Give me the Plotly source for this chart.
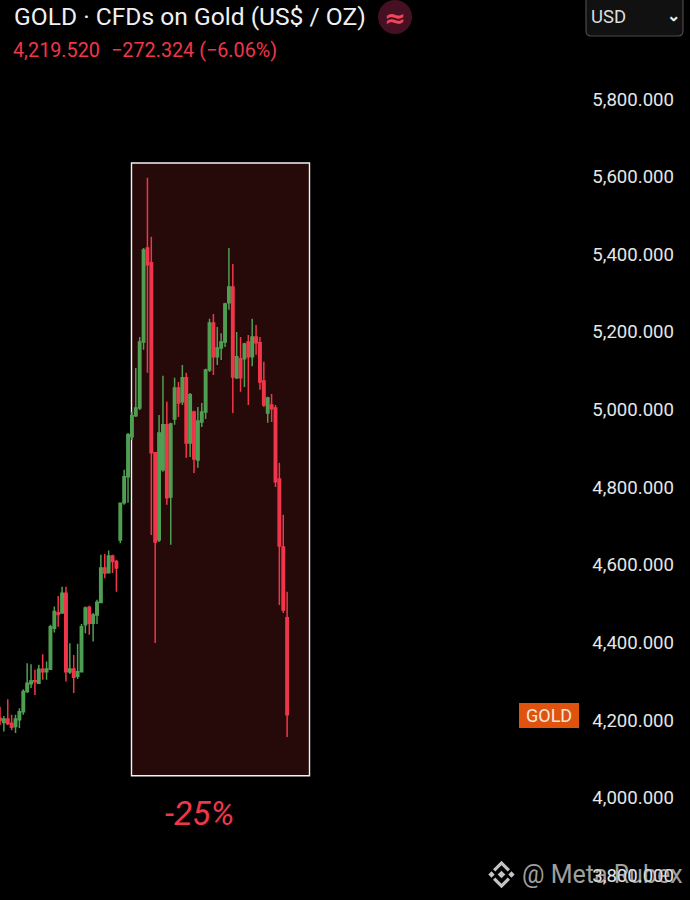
import plotly.graph_objects as go

# candles, oldest first
open_ = [4205,4194,4203,4192,4184,4201,4222,4274,4294,4302,4295,4331,4325,4331,4437,4477,4476,4527,4324,4332,4313,4325,4446,4491,4450,4471,4503,4592,4580,4623,
         4609,4664,4760,4827,4930,4984,5004,5174,5416,5378,4889,4664,4845,4961,4775,4976,5056,5020,5082,4914,4994,4870,4968,4994,5102,5223,5136,5159,5174,5275,
         5316,5082,5131,5131,5174,5136,5187,5172,5074,4991,5012,5004,4821,4646,4464]
high = [4235,4211,4254,4214,4214,4231,4280,4347,4344,4330,4343,4370,4351,4446,4493,4520,4544,4544,4398,4368,4397,4448,4493,4495,4476,4510,4626,4628,4637,4626,
        4613,4761,4845,4940,4994,5107,5187,5416,5597,5445,4891,4986,5087,5020,4966,5082,5071,5115,5095,5043,4997,5007,5017,5105,5234,5246,5213,5197,5275,5416,
        5375,5200,5187,5172,5192,5234,5218,5187,5123,5033,5040,5012,4863,4729,4531]
low = [4188,4171,4188,4174,4167,4180,4214,4270,4283,4265,4294,4304,4304,4330,4426,4441,4474,4300,4319,4270,4306,4324,4424,4420,4403,4448,4501,4566,4579,4579,
       4531,4656,4755,4760,4922,4981,4999,5154,5095,4677,4399,4659,4840,4755,4652,4961,4981,5012,4876,4878,4837,4850,4955,4976,5097,5089,5115,5128,5161,5257,
       4991,5079,5046,5058,5012,5112,5141,5051,5007,4966,4968,4801,4497,4476,4157]
close = [4199,4203,4191,4182,4203,4222,4274,4295,4301,4299,4331,4325,4332,4441,4480,4472,4527,4325,4332,4311,4325,4441,4489,4450,4471,4504,4592,4579,4623,4609,
         4592,4759,4827,4935,4984,5004,5174,5411,5373,4889,4659,4940,4961,4773,4963,5056,5017,5082,4914,5038,4873,4971,4994,5102,5223,5136,5159,5174,5272,5316,
         5084,5136,5082,5169,5136,5187,5172,5071,5012,5030,5002,4814,4649,4484,4214]
days = list(range(len(close)))

price_ticks = [3800,4000,4200,4400,4600,4800,5000,5200,5400,5600,5800]

W = 690
H = 900
RIGHT = 13
PX_PER_DAY = 3.88
UP = "#4f9f52"
DOWN = "#f0364a"
FONT = "Roboto"

def px(x):
    return x / (W - RIGHT)

def py(y):
    return 1 - y / H

def label(fig, x, y, text, size, color, anchor="left", family=FONT, **kw):
    fig.add_annotation(xref="paper", yref="paper", x=px(x), y=py(y), text=text, showarrow=False,
                       xanchor=anchor, yanchor="middle", borderpad=0,
                       font=dict(family=family, size=size, color=color), **kw)

def poly(fig, points, color):
    path = "M " + " L ".join(f"{px(x)} {py(y)}" for x, y in points) + " Z"
    fig.add_shape(type="path", xref="paper", yref="paper", path=path, fillcolor=color, line_width=0)

def binance_logo(fig, cx, cy, color):
    # four diamonds round a centre one, two chevrons top and bottom
    for dx, dy, r in [(0, 0, 3.8), (-10, 0, 3.2), (10, 0, 3.2)]:
        poly(fig, [(cx+dx-r, cy+dy), (cx+dx, cy+dy-r), (cx+dx+r, cy+dy), (cx+dx, cy+dy+r)], color)
    for s in [-1, 1]:
        poly(fig, [(cx-8.5, cy+s*5.2), (cx, cy+s*13.7), (cx+8.5, cy+s*5.2), (cx+6.2, cy+s*3),
                   (cx, cy+s*9.2), (cx-6.2, cy+s*3)], color)

fig = go.Figure()
fig.add_trace(go.Candlestick(x=days, open=open_, high=high, low=low, close=close,
                             increasing=dict(line=dict(color=UP, width=1.5), fillcolor=UP),
                             decreasing=dict(line=dict(color=DOWN, width=1.5), fillcolor=DOWN),
                             whiskerwidth=0, hoverinfo="skip", showlegend=False))

# -25% box behind the candles
fig.add_shape(type="rect", xref="x", yref="y", x0=131.5/PX_PER_DAY, x1=309.5/PX_PER_DAY, y0=4057, y1=5635,
              fillcolor="#260909", line=dict(color="#f2f2f2", width=1.4), layer="below")

# USD selector, rounded bottom corners
x0, x1, y0, y1 = px(586), px(683), py(-6), py(36)
rx, ry = px(5), 5 / H
fig.add_shape(type="path", xref="paper", yref="paper",
              path=f"M {x0} {y0} L {x0} {y1+ry} Q {x0} {y1} {x0+rx} {y1} L {x1-rx} {y1} Q {x1} {y1} {x1} {y1+ry} L {x1} {y0} Z",
              fillcolor="#111111", line=dict(color="#4a4a4a", width=1.2))
# icon behind the approx sign
fig.add_shape(type="circle", xref="paper", yref="paper", x0=px(378), x1=px(412), y0=py(0), y1=py(34),
              fillcolor="#451022", line_width=0)
# orange tag
fig.add_shape(type="rect", xref="paper", yref="paper", x0=px(519), x1=px(579), y0=py(703), y1=py(728),
              fillcolor="#e0530f", line_width=0)

label(fig, 13, 17, "GOLD · CFDs on Gold (US$ / OZ)", 24.6, "#f0f0f0")
label(fig, 12, 50, "4,219.520", 19.8, DOWN)
label(fig, 110, 50, "−272.324 (−6.06%)", 19.8, DOWN)
label(fig, 395, 18, "<b>≈</b>", 26, "#f2445a", anchor="center", family="DejaVu Sans")
label(fig, 590, 17, "USD", 18.5, "#dddddd")
label(fig, 673, 15, "<b>⌄</b>", 16, "#eeeeee", anchor="center")
label(fig, 549, 715, "GOLD", 18, "#f7e6da", anchor="center")
label(fig, 199, 813, "<i>-25%</i>", 33.5, DOWN, anchor="center")

# watermark
binance_logo(fig, 501.5, 874.5, "#c4c4c4")
label(fig, 521, 874, "@ Meta Rubex", 25, "rgba(205,205,205,0.78)")

fig.update_xaxes(visible=False, range=[0, (W - RIGHT) / PX_PER_DAY], rangeslider_visible=False)
fig.update_yaxes(side="right", range=[3737, 6055], tickvals=price_ticks, tickformat=",.3f",
                 ticklabelposition="inside", ticks="", showgrid=False, zeroline=False, showline=False,
                 tickfont=dict(family=FONT, size=18.6, color="#e6e6e6"))

fig.update_layout(width=W, height=H, margin=dict(l=0, r=RIGHT, t=0, b=0),
                  paper_bgcolor="black", plot_bgcolor="black", showlegend=False, boxgap=0.12,
                  font=dict(family=FONT), hovermode=False)

fig.write_html("out.html", config=dict(displayModeBar=False),
               post_script="document.body.style.margin='0';document.body.style.background='black';document.body.style.overflow='hidden';")
